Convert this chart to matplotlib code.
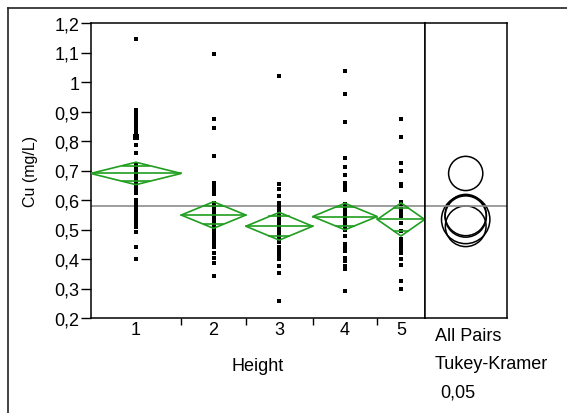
import numpy as np
import matplotlib.pyplot as plt
from matplotlib.patches import Polygon, Circle
from matplotlib.lines import Line2D

plt.rcParams['font.family'] = ['Liberation Sans', 'DejaVu Sans']

# Cu par hauteur de prélèvement
heights = ['1', '2', '3', '4', '5']
cu_h1 = [1.145, 0.906, 0.897, 0.889, 0.881, 0.872, 0.862, 0.851, 0.840, 0.831,
         0.812, 0.812, 0.812, 0.786, 0.758, 0.718, 0.704, 0.695, 0.687, 0.676,
         0.670, 0.663, 0.651, 0.644, 0.637, 0.630, 0.623, 0.600, 0.588, 0.578,
         0.570, 0.563, 0.555, 0.546, 0.540, 0.531, 0.521, 0.510, 0.490, 0.441,
         0.399, 0.399]
cu_h2 = [1.095, 0.876, 0.843, 0.748, 0.659, 0.651, 0.643, 0.635, 0.620, 0.591,
         0.580, 0.570, 0.560, 0.555, 0.552, 0.545, 0.538, 0.530, 0.520, 0.510,
         0.500, 0.490, 0.478, 0.465, 0.452, 0.440, 0.422, 0.405, 0.388, 0.342]
cu_h3 = [1.021, 0.653, 0.636, 0.614, 0.591, 0.580, 0.572, 0.565, 0.558, 0.550,
         0.543, 0.536, 0.528, 0.521, 0.514, 0.506, 0.499, 0.492, 0.485, 0.478,
         0.470, 0.463, 0.456, 0.440, 0.432, 0.425, 0.415, 0.399, 0.376, 0.354,
         0.257]
cu_h4 = [1.038, 0.959, 0.865, 0.742, 0.713, 0.686, 0.659, 0.651, 0.643, 0.635,
         0.586, 0.574, 0.563, 0.552, 0.540, 0.535, 0.529, 0.518, 0.512, 0.506,
         0.498, 0.478, 0.450, 0.439, 0.427, 0.405, 0.393, 0.376, 0.365, 0.291]
cu_h5 = [0.876, 0.815, 0.725, 0.697, 0.653, 0.646, 0.593, 0.586, 0.571, 0.555,
         0.546, 0.521, 0.495, 0.467, 0.456, 0.444, 0.433, 0.419, 0.401, 0.379,
         0.325, 0.297]
groups = [cu_h1, cu_h2, cu_h3, cu_h4, cu_h5]

group_means = [0.690, 0.549, 0.511, 0.544, 0.534]
ci_half = [0.038, 0.045, 0.047, 0.045, 0.056]
circle_radius = [0.058, 0.070, 0.069, 0.070, 0.082]
grand_mean = 0.58
selected = (0, 0.812)  # point sélectionné (groupe, valeur)

green = '#1f9e1f'
W, H = 567, 414
fs = 13

fig = plt.figure(figsize=(W / 100, H / 100), dpi=100)
ax = fig.add_axes([90.7 / W, 95 / H, 334 / W, 295 / H])
axc = fig.add_axes([424.7 / W, 95 / H, 82 / W, 295 / H])

# largeur des colonnes proportionnelle à l'effectif
counts = np.array([len(g) for g in groups])
edges = np.concatenate([[0], np.cumsum(counts)])
centers = edges[:-1] + counts / 2

for i, vals in enumerate(groups):
    ax.plot(np.full(len(vals), centers[i]), vals, 's', ms=2.4, mew=0,
            color='black', zorder=2)
sx = centers[selected[0]]
ax.plot([sx], [selected[1]], 's', ms=4.5, mew=0, color='black', zorder=2)

# diamants des moyennes
for i, m in enumerate(group_means):
    L, R, C = edges[i], edges[i + 1], centers[i]
    h = ci_half[i]
    ax.add_patch(Polygon([(L, m), (C, m + h), (R, m), (C, m - h)], closed=True,
                         fill=False, ec=green, lw=1.2, zorder=3))
    ax.plot([L, R], [m, m], color=green, lw=1.2, zorder=3)
    d = h / np.sqrt(2)
    hw = (R - L) / 2 * (1 - 1 / np.sqrt(2))
    for y in (m + d, m - d):
        ax.plot([C - hw, C + hw], [y, y], color=green, lw=1.2, zorder=3)

ax.axhline(grand_mean, color='#8c8c8c', lw=1.2, zorder=1)

ax.set_xlim(0, edges[-1])
ax.set_ylim(0.2, 1.2)
yt = np.round(np.arange(0.2, 1.21, 0.1), 1)
ax.set_yticks(yt)
ax.set_yticklabels(['1' if v == 1 else f'{v:.1f}'.replace('.', ',') for v in yt],
                   fontsize=fs)
ax.set_xticks(edges[1:-1])
ax.set_xticklabels([])
ax.set_xticks(centers, minor=True)
ax.set_xticklabels(heights, minor=True, fontsize=fs)
ax.tick_params(axis='x', which='major', direction='out', length=5, width=1)
ax.tick_params(axis='x', which='minor', length=0, pad=2.5)
ax.tick_params(axis='y', direction='out', length=7, width=1, pad=1)
ax.set_xlabel('Height', fontsize=fs)
ax.xaxis.set_label_coords(0.5, -0.132)
ax.set_ylabel('Cu (mg/L)', fontsize=11.5)
ax.yaxis.set_label_coords(-0.158, 0.5)
for s in ax.spines.values():
    s.set_linewidth(1.1)

# cercles de comparaison Tukey-Kramer
cw = 82 / 295
axc.set_xlim(0, cw)
axc.set_ylim(0.2, 1.2)
for m, r in zip(group_means, circle_radius):
    axc.add_patch(Circle((cw / 2, m), r, fill=False, ec='black', lw=1.1))
axc.axhline(grand_mean, color='#8c8c8c', lw=1.2, zorder=1)
axc.set_xticks([])
axc.set_yticks([])
for s in axc.spines.values():
    s.set_linewidth(1.1)

fig.text(435 / W, 1 - 337 / H, 'All Pairs', fontsize=fs, va='center')
fig.text(435 / W, 1 - 365 / H, 'Tukey-Kramer', fontsize=fs, va='center')
fig.text(440 / W, 1 - 393 / H, '0,05', fontsize=fs, va='center')

# cadre extérieur
fig.add_artist(Line2D([8 / W, 1], [1 - 9 / H, 1 - 9 / H], color='#222222', lw=1.2))
fig.add_artist(Line2D([8 / W, 8 / W], [0, 1 - 9 / H], color='#222222', lw=1.2))

fig.savefig('out.png', dpi=100)
